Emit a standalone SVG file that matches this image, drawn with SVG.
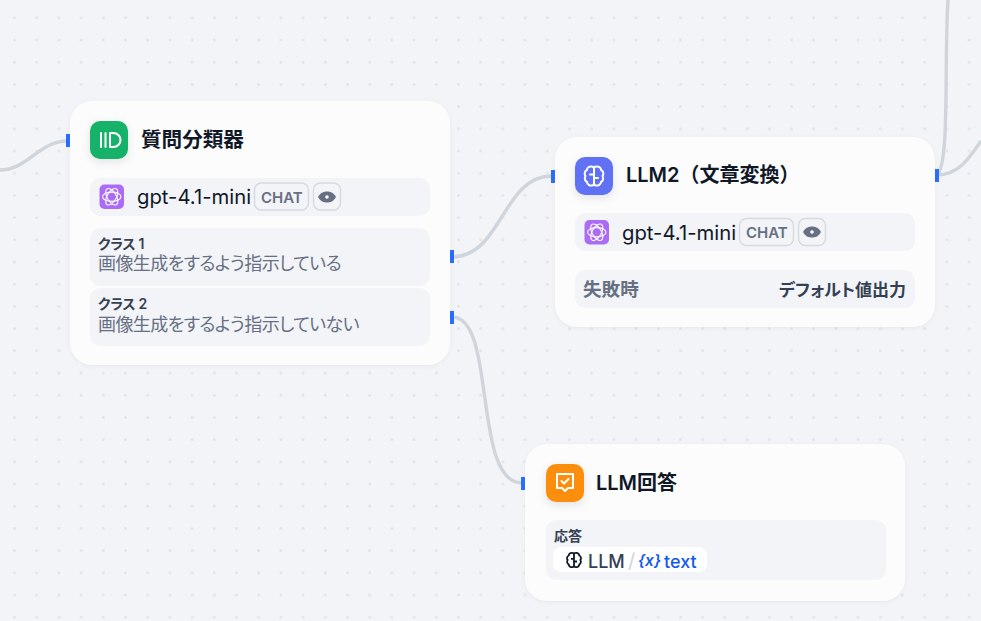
<svg xmlns="http://www.w3.org/2000/svg" width="981" height="621" viewBox="0 0 981 621">
<style>
text{font-family:Inter,"Noto Sans CJK JP","Noto Sans",sans-serif}
.card{fill:#fcfcfd;filter:url(#sh)}
.title{font-size:20px;font-weight:600;fill:#101828}
.row{fill:#f2f4f7}
.model{font-size:20.3px;fill:#101828}
.tag{fill:none;stroke:#d6d9de;stroke-width:1.4}
.chat{font-size:15px;font-weight:600;fill:#676f83}
.cls{font-size:14px;font-weight:600;fill:#354052;font-feature-settings:"palt";letter-spacing:-0.3px}
.desc{font-size:18px;fill:#676f83;font-feature-settings:"palt";letter-spacing:-0.6px}
.conn{fill:none;stroke:#d0d5dc;stroke-width:3.4}
.h{fill:#296dff}
.oai{fill:#ab6bf6}
.ic{fill:none;stroke:#fff;stroke-width:2;stroke-linecap:round;stroke-linejoin:round}
.oic{fill:none;stroke:#fff;stroke-width:1.1}
</style>
<defs>
<pattern id="dots" x="3.4" y="6.7" width="22.2" height="22.2" patternUnits="userSpaceOnUse"><circle cx="11.1" cy="11.1" r="1.5" fill="#e2e4e9"/></pattern>
<filter id="sh" x="-10%" y="-10%" width="120%" height="120%"><feDropShadow dx="0" dy="1" stdDeviation="2" flood-color="#101828" flood-opacity="0.05"/></filter>
<filter id="ish" x="-30%" y="-30%" width="160%" height="160%"><feDropShadow dx="0" dy="3" stdDeviation="4" flood-color="#101828" flood-opacity="0.1"/></filter>
<g id="oai">
<rect width="24.5" height="24.5" rx="5" class="oai"/>
<g class="oic" transform="translate(12.25 12.25)">
<ellipse rx="9.2" ry="4.6"/><ellipse rx="9.2" ry="4.6" transform="rotate(60)"/><ellipse rx="9.2" ry="4.6" transform="rotate(120)"/>
</g>
</g>
<g id="eye"><path d="M-9 0C-6-5 -3-5.500 0-5.500S6-5 9 0C6 5 3 5.500 0 5.500S-6 5-9 0Z" fill="#676f83"/><circle r="1.800" fill="#fff"/></g>
<g id="brain"><path d="M-2-9.500C-5-10-7-8-7-6C-9.500-5-10-1.500-8.500 0C-10 2-9 5-7 6C-7 8.500-4 10-2 9.500C-0.500 9.500 0 8 0 7V-7C0-8.500-0.500-9.500-2-9.500ZM2-9.500C5-10 7-8 7-6C9.500-5 10-1.500 8.500 0C10 2 9 5 7 6C7 8.500 4 10 2 9.500C0.500 9.500 0 8 0 7V-7C0-8.500 0.500-9.500 2-9.500ZM0-1.500H-4M0 2H4"/></g>
</defs>
<rect width="981" height="621" fill="#f2f4f7"/>
<rect width="981" height="621" fill="url(#dots)"/>
<g id="connectors">
<path class="conn" d="M0 170C28 170 38 141 68 141"/>
<path class="conn" d="M452 257C502 257 502 176 552 176"/>
<path class="conn" d="M452 317C497 317 472 483 522 483"/>
<path class="conn" d="M937 175C950 165 944 60 948 0"/>
<path class="conn" d="M937 175C958 175 968 160 981 141"/>
</g>
<g id="node-classifier">
<rect class="card" x="70" y="101" width="380" height="264" rx="22"/>
<rect x="66" y="134" width="4" height="13" class="h"/>
<rect x="450" y="250" width="4" height="13" class="h"/>
<rect x="450" y="311" width="4" height="13" class="h"/>
<rect x="90" y="121" width="38" height="38" rx="10" fill="#17b26a" filter="url(#ish)"/>
<path d="M101 133V147M105.500 133V147M110 133H113C123 133 123 147 113 147H110Z" class="ic"/>
<text class="title" x="141" y="147" style="font-size:20.6px">質問分類器</text>
<rect class="row" x="90" y="178" width="340" height="38" rx="10"/>
<use href="#oai" x="99.500" y="184.500"/>
<text class="model" x="137" y="204">gpt-4.1-mini</text>
<rect class="tag" x="254.500" y="183" width="54" height="27" rx="7"/>
<text class="chat" x="261" y="203">CHAT</text>
<rect class="tag" x="313.500" y="183" width="27" height="27" rx="7"/>
<use href="#eye" x="327" y="197"/>
<rect class="row" x="90" y="228" width="340" height="58" rx="10"/>
<text class="cls" x="98" y="249">クラス 1</text>
<text class="desc" x="98" y="270">画像生成をするよう指示している</text>
<rect class="row" x="90" y="288" width="340" height="58" rx="10"/>
<text class="cls" x="98" y="309">クラス 2</text>
<text class="desc" x="98" y="331">画像生成をするよう指示していない</text>
</g>
<g id="node-llm2">
<rect class="card" x="555" y="137" width="380" height="190" rx="22"/>
<rect x="551" y="170" width="4" height="13" class="h"/>
<rect x="935" y="169" width="4" height="13" class="h"/>
<rect x="575" y="157" width="38" height="38" rx="10" fill="#6172f3" filter="url(#ish)"/>
<use href="#brain" x="594" y="176" class="ic"/>
<text class="title" x="626" y="182">LLM2（文章変換）</text>
<rect class="row" x="575" y="213" width="340" height="38" rx="10"/>
<use href="#oai" x="584.500" y="220"/>
<text class="model" x="622" y="240">gpt-4.1-mini</text>
<rect class="tag" x="739.500" y="218.500" width="54" height="27" rx="7"/>
<text class="chat" x="746" y="238">CHAT</text>
<rect class="tag" x="798.500" y="218.500" width="27" height="27" rx="7"/>
<use href="#eye" x="812" y="232"/>
<rect class="row" x="575" y="270" width="340" height="38" rx="10"/>
<text x="583" y="296" font-size="18.600" font-weight="600" fill="#676f83">失敗時</text>
<text x="906" y="296" font-size="17" font-weight="600" fill="#354052" text-anchor="end" style="font-feature-settings:'palt'">デフォルト値出力</text>
</g>
<g id="node-answer">
<rect class="card" x="525" y="444" width="380" height="157" rx="22"/>
<rect x="521" y="477" width="4" height="13" class="h"/>
<rect x="546" y="464" width="38" height="38" rx="10" fill="#fb8f08" filter="url(#ish)"/>
<path d="M557 474H573V488H568L565 491L562 488H557ZM561.500 481L564 483.500L568.500 479" class="ic"/>
<text class="title" x="596" y="490">LLM回答</text>
<rect class="row" x="546" y="520" width="340" height="60" rx="10"/>
<text x="554" y="541" font-size="14" font-weight="600" fill="#354052">応答</text>
<rect x="553" y="547" width="154" height="25" rx="8" fill="#fff"/>
<g transform="translate(574 560) scale(0.75)" fill="none" stroke="#101828" stroke-width="2.400"><use href="#brain"/></g>
<text x="588" y="568" font-size="18" font-weight="500" fill="#354052">LLM</text>
<text x="628" y="568" font-size="20" fill="#d0d5dc">/</text>
<text x="638" y="566" font-size="15.500" font-weight="600" fill="#155aef" font-style="italic">{x}</text>
<text x="664" y="568" font-size="18" font-weight="500" fill="#155aef">text</text>
</g>
</svg>
